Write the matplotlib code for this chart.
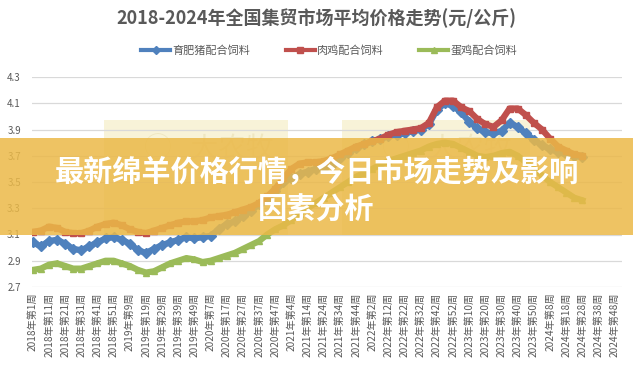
import numpy as np
import matplotlib
matplotlib.use("Agg")
import matplotlib.pyplot as plt
from matplotlib.patches import Rectangle

plt.rcParams['font.family'] = ['Noto Sans CJK SC', 'DejaVu Sans']

# 周数 (每年)
year_weeks = [(2018, 52), (2019, 52), (2020, 53), (2021, 52), (2022, 52), (2023, 52), (2024, 52)]
categories = [f"{y}年第{w}周" for y, n in year_weeks for w in range(1, n + 1)]

# 数据: 每5周读一个值 (元/公斤)
step = 5
pig_feed = [3.04, 3.01, 3.05, 3.06, 3.03, 2.99, 2.98, 3.01, 3.04, 3.07,
            3.08, 3.06, 3.03, 2.98, 2.96, 2.99, 3.02, 3.04, 3.06, 3.08,
            3.07, 3.08, 3.09, 3.14, 3.18, 3.20, 3.24, 3.28, 3.33, 3.37,
            3.43, 3.50, 3.53, 3.56, 3.58, 3.60, 3.61, 3.63, 3.68, 3.72,
            3.76, 3.79, 3.81, 3.83, 3.85, 3.86, 3.87, 3.89, 3.90, 3.94,
            4.05, 4.10, 4.08, 4.03, 3.96, 3.91, 3.88, 3.87, 3.89, 3.95,
            3.92, 3.87, 3.82, 3.78, 3.75, 3.73, 3.71, 3.70, 3.69]
broiler_feed = [3.12, 3.13, 3.16, 3.15, 3.12, 3.11, 3.11, 3.13, 3.16, 3.18,
                3.19, 3.17, 3.14, 3.12, 3.11, 3.13, 3.15, 3.17, 3.19, 3.20,
                3.20, 3.21, 3.23, 3.24, 3.25, 3.27, 3.29, 3.31, 3.34, 3.39,
                3.45, 3.53, 3.60, 3.64, 3.65, 3.65, 3.66, 3.68, 3.71, 3.74,
                3.77, 3.79, 3.81, 3.83, 3.86, 3.88, 3.89, 3.90, 3.91, 3.95,
                4.07, 4.12, 4.12, 4.07, 4.04, 3.98, 3.94, 3.92, 3.97, 4.06,
                4.06, 4.01, 3.95, 3.90, 3.83, 3.77, 3.74, 3.71, 3.70]
layer_feed = [2.83, 2.84, 2.87, 2.88, 2.86, 2.84, 2.84, 2.86, 2.88, 2.90,
              2.90, 2.88, 2.86, 2.83, 2.81, 2.82, 2.85, 2.88, 2.90, 2.92,
              2.91, 2.89, 2.90, 2.92, 2.94, 2.96, 2.99, 3.02, 3.05, 3.10,
              3.14, 3.17, 3.21, 3.26, 3.30, 3.34, 3.38, 3.42, 3.46, 3.50,
              3.54, 3.57, 3.60, 3.63, 3.66, 3.68, 3.70, 3.72, 3.74, 3.77,
              3.79, 3.80, 3.79, 3.76, 3.73, 3.70, 3.69, 3.70, 3.72, 3.73,
              3.70, 3.65, 3.60, 3.55, 3.50, 3.46, 3.42, 3.38, 3.36]

series = [("育肥猪配合饲料", pig_feed, "#4F81BD", "D"),
          ("肉鸡配合饲料", broiler_feed, "#C0504D", "s"),
          ("蛋鸡配合饲料", layer_feed, "#9BBB59", "^")]

fig = plt.figure(figsize=(6.33, 3.74), dpi=100)
ax = fig.add_axes([32 / 633, 1 - 287 / 374, 590 / 633, 210 / 374])

# 水印 (在图线下面)
for x0, x1 in [(104, 288), (342, 530)]:
    fig.patches.append(Rectangle((x0 / 633, 1 - 236 / 374), (x1 - x0) / 633, 116 / 374,
                                 transform=fig.transFigure, facecolor="#F7F1CF",
                                 edgecolor="none", alpha=0.8, zorder=-2))
    fig.text((x0 + 40) / 633, 1 - 150 / 374, "◯   大农牧", fontsize=20, color="#E9DFB0",
             alpha=0.6, va="center", zorder=-1)

for name, vals, color, mk in series:
    x = np.arange(len(vals)) * step
    ax.plot(x, vals, color=color, lw=4.5, marker=mk, ms=5, mec=color,
            label=name, zorder=3)

ax.set_xlim(-0.5, len(categories) - 0.5)
ax.set_ylim(2.7, 4.3)
ax.set_yticks(np.arange(2.7, 4.31, 0.2))
ax.set_yticklabels([f"{v:.1f}" for v in np.arange(2.7, 4.31, 0.2)])
ticks = list(range(0, len(categories), 10))
ax.set_xticks(ticks)
ax.set_xticklabels([categories[i] for i in ticks], rotation=90, fontsize=7.3, color="#595959")
ax.tick_params(axis="y", labelsize=7, labelcolor="#595959", length=0, pad=8)
ax.tick_params(axis="x", length=0, pad=4)
ax.grid(axis="y", color="#D9D9D9", lw=0.9)
ax.set_axisbelow(True)
for s in ax.spines.values():
    s.set_visible(False)
ax.patch.set_alpha(0)

fig.text(0.5, 1 - 18 / 374, "2018-2024年全国集贸市场平均价格走势(元/公斤)",
         ha="center", va="center", fontsize=13, fontweight="bold", color="#595959")
handles, labels = ax.get_legend_handles_labels()
leg = fig.legend(handles, labels, loc="center", bbox_to_anchor=(0.52, 1 - 50 / 374), ncol=3,
                 frameon=False, fontsize=8, labelcolor="#595959", handlelength=2.6,
                 columnspacing=3.2, handletextpad=0.2)
for h in leg.legend_handles:
    h.set_linewidth(3)
    h.set_markersize(4)

# 横幅
fig.patches.append(Rectangle((0, 1 - 235 / 374), 1, 97 / 374, transform=fig.transFigure,
                             facecolor="#EBB948", edgecolor="none", alpha=0.85, zorder=5))
fig.text(0.5, 1 - 172 / 374, "最新绵羊价格行情，今日市场走势及影响", ha="center", va="center",
         fontsize=21, fontweight="bold", color="white", zorder=6)
fig.text(0.5, 1 - 210 / 374, "因素分析", ha="center", va="center",
         fontsize=21, fontweight="bold", color="white", zorder=6)

fig.savefig("out.png", dpi=100)
